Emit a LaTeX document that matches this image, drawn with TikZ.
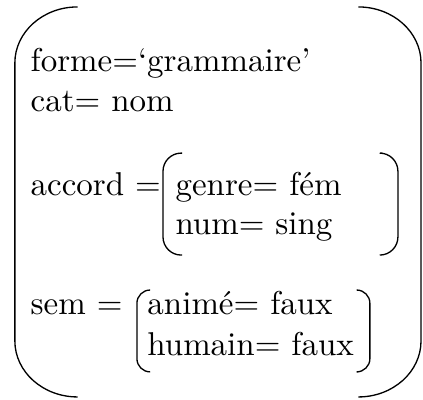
\documentclass[tikz,border=0pt]{standalone}
\usepackage{tikz}
\tikzstyle{feat}=[anchor=base west,inner sep=0pt]
\tikzstyle{brak}=[rounded corners=5.5pt]
\tikzstyle{sbrak}=[rounded corners=4pt]

\begin{document}
\begin{tikzpicture}[x=10pt,y=10pt]
    \useasboundingbox (0,0) rectangle (12.82,12.12);
    % outer matrix
    \draw (2.35,11.91) arc[start angle=90,end angle=180,x radius=1.9,y radius=1.7] -- (0.45,1.79) arc[start angle=180,end angle=270,x radius=1.9,y radius=1.7];
    \draw (10.86,11.91) arc[start angle=90,end angle=0,x radius=1.9,y radius=1.7] -- (12.76,1.79) arc[start angle=0,end angle=-90,x radius=1.9,y radius=1.7];

    \node[feat] (forme) at (0.91,9.94) {forme=‘grammaire’};
    \node[feat] (cat) at (0.91,8.73) {cat= nom};
    \node[feat] (accord) at (0.91,6.21) {accord =};
    \node[feat] (genre) at (5.30,6.21) {genre= fém};
    \node[feat] (num) at (5.30,5.00) {num= sing};
    \node[feat] (sem) at (0.91,2.58) {sem =};
    \node[feat] (anime) at (4.45,2.58) {animé= faux};
    \node[feat] (humain) at (4.45,1.36) {humain= faux};

    % inner matrices
    \draw[brak] (5.52,7.48) -- (4.94,7.48) -- (4.94,4.39) -- (5.52,4.39);
    \draw[brak] (11.58,7.48) -- (12.06,7.48) -- (12.06,4.39) -- (11.58,4.39);
    \draw[sbrak] (4.55,3.33) -- (4.15,3.33) -- (4.15,0.85) -- (4.55,0.85);
    \draw[sbrak] (10.85,3.33) -- (11.21,3.33) -- (11.21,0.85) -- (10.85,0.85);
\end{tikzpicture}
\end{document}
